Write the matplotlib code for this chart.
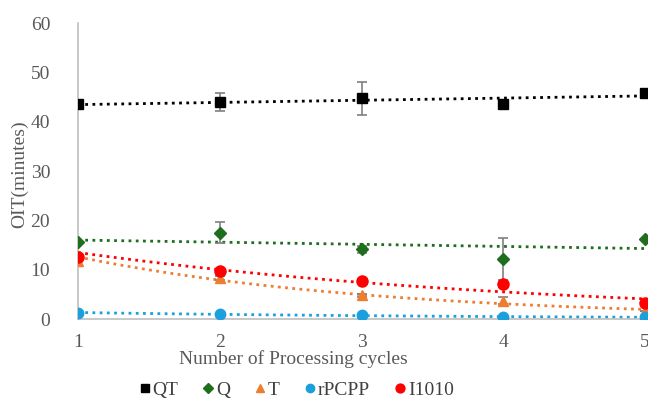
import numpy as np
import matplotlib
matplotlib.use("Agg")
import matplotlib.pyplot as plt

# data
cycles = [1, 2, 3, 4, 5]
qt = [43.5, 44.0, 44.7, 43.6, 45.9]
qt_err = [0.0, 1.8, 3.3, 0.8, 0.0]
q = [15.7, 17.5, 14.1, 12.2, 16.2]
q_err = [0.0, 2.1, 0.7, 4.3, 0.0]
t = [11.8, 8.25, 4.8, 3.7, 1.7]
t_err = [0.0, 0.4, 0.3, 0.7, 0.0]
rpcpp = [1.27, 0.95, 0.75, 0.45, 0.35]
i1010 = [12.6, 9.7, 7.8, 7.1, 3.3]

series = [
    ("QT", qt, qt_err, "#000000", "s", "linear", 7),
    ("Q", q, q_err, "#1E6E1E", "D", "linear", 6.5),
    ("T", t, t_err, "#ED7D31", "^", "exp", 7),
    ("rPCPP", rpcpp, None, "#1AA0DC", "o", "exp", 7.5),
    ("I1010", i1010, None, "#FF0000", "o", "exp", 8),
]

plt.rcParams['font.family'] = ['Liberation Serif', 'DejaVu Serif']

fig = plt.figure(figsize=(6.48, 4.0), dpi=100)
ax = fig.add_axes([0.1204, 0.2025, 0.8796, 0.74])

x = np.array(cycles, dtype=float)
xs = np.linspace(1, 5, 100)
handles = []
for name, ys, err, col, mk, kind, ms in series:
    ys = np.array(ys)
    # trendline like excel
    if kind == "linear":
        k, b = np.polyfit(x, ys, 1)
        fit = k * xs + b
    else:
        k, b = np.polyfit(x, np.log(ys), 1)
        fit = np.exp(k * xs + b)
    ax.plot(xs, fit, color=col, lw=2.0, ls=(0, (1, 1.6)), zorder=2, clip_on=False)
    if err is not None:
        ax.errorbar(x, ys, yerr=err, fmt="none", ecolor="#7f7f7f", elinewidth=1.2,
                    capsize=3.5, capthick=1.2, zorder=3)
    h, = ax.plot(x, ys, ls="none", marker=mk, color=col, ms=ms, zorder=4, label=name)
    handles.append(h)

ax.set_xlim(1, 5.02)
ax.set_ylim(0, 60)
ax.set_xticks(cycles)
ax.set_yticks(range(0, 61, 10))
for s in ["top", "right"]:
    ax.spines[s].set_visible(False)
for s in ["left", "bottom"]:
    ax.spines[s].set_color("#bfbfbf")
    ax.spines[s].set_linewidth(1.2)
ax.tick_params(length=0, labelsize=14, colors="#595959")
ax.tick_params(axis="x", pad=11)
ax.tick_params(axis="y", pad=20)
xl = ax.set_xlabel("Number of Processing cycles", fontsize=14, color="#595959")
xl.set_va("center")
ax.xaxis.set_label_coords(0.377, -0.135)
ax.set_ylabel("OIT(minutes)", fontsize=14, color="#595959")
ax.yaxis.set_label_coords(-0.088, 0.49)

leg = fig.legend(handles=handles, loc="center", bbox_to_anchor=(0.458, 0.025), ncol=5,
                 frameon=False, fontsize=14, handlelength=0.5, handletextpad=0.15,
                 columnspacing=1.3, markerscale=0.8)
for txt in leg.get_texts():
    txt.set_color("#404040")

fig.savefig("out.png", dpi=100)
